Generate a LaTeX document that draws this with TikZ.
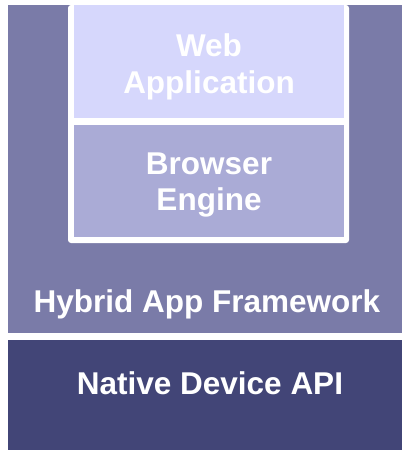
\documentclass[tikz,border=0pt]{standalone}
\usepackage{fontspec}
\setmainfont{Liberation Sans}
\definecolor{frameworkcol}{HTML}{7A7BA8}
\definecolor{webcol}{HTML}{D6D7FC}
\definecolor{browsercol}{HTML}{AAABD6}
\definecolor{nativecol}{HTML}{424577}
\begin{document}
\begin{tikzpicture}[x=1pt,y=-1pt,
  layer/.style={draw=none},
  label/.style={text=white,font=\fontsize{31.5}{36}\selectfont\bfseries,inner sep=0pt,anchor=base,align=center}]
  \useasboundingbox (0,0) rectangle (402,451);
  \fill[white] (0,0) rectangle (402,451);
  % Hybrid framework layer
  \fill[frameworkcol] (8,5) rectangle (402,333);
  % white frame holding the web stack
  \fill[white,rounded corners=3pt] (68,5) rectangle (349,243);
  \fill[webcol] (74,5) rectangle (344,118);
  \fill[browsercol] (74,125) rectangle (344,237);
  % native layer
  \fill[nativecol] (8,340) rectangle (402,450);
  % labels
  \node[label] (web1) at (209,56) {Web};
  \node[label] (web2) at (209,93) {Application};
  \node[label] (br1) at (209,174) {Browser};
  \node[label] (br2) at (209,210) {Engine};
  \node[label] (hyb) at (207,312) {Hybrid App Framework};
  \node[label] (nat) at (210,394) {Native Device API};
\end{tikzpicture}
\end{document}
